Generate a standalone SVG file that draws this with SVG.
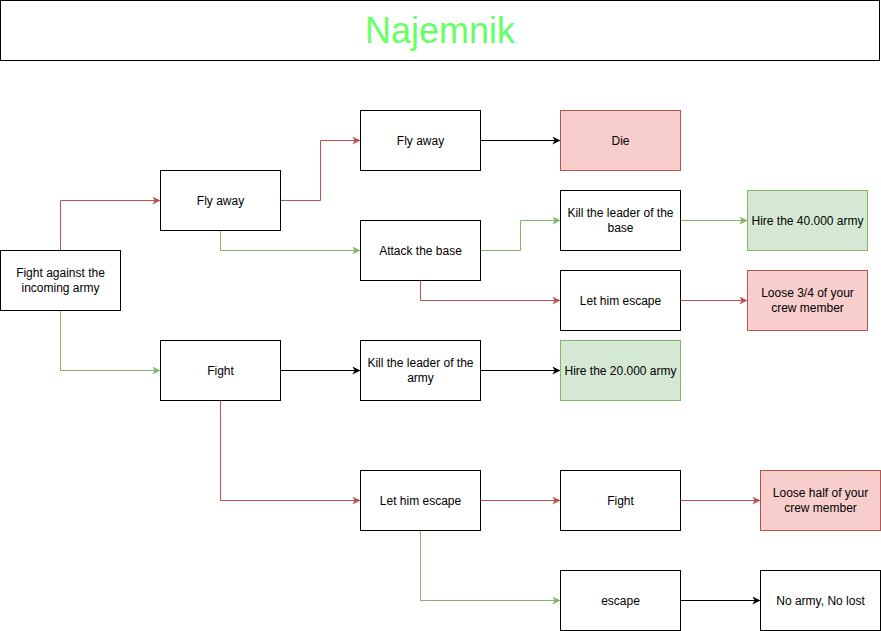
<svg xmlns="http://www.w3.org/2000/svg" width="881" height="631" viewBox="0 0 881 631">
<style>
text{font-family:"Liberation Sans",Arial,sans-serif;font-size:12px;fill:#000;text-anchor:middle}
.n rect{fill:#fff;stroke:#000;stroke-width:1}
.r rect{fill:#f8cecc;stroke:#b85450}
.g rect{fill:#d5e8d4;stroke:#82b366}
.e{fill:none;stroke-width:1}
.ek{stroke:#000}
.er{stroke:#b85450}
.eg{stroke:#82b366}
</style>
<defs>
<marker id="ak" viewBox="0 0 10 10" refX="9" refY="5" markerWidth="8" markerHeight="8" markerUnits="userSpaceOnUse" orient="auto"><path d="M0,0 L10,5 L0,10 L3,5 Z" fill="#000"/></marker>
<marker id="ar" viewBox="0 0 10 10" refX="9" refY="5" markerWidth="8" markerHeight="8" markerUnits="userSpaceOnUse" orient="auto"><path d="M0,0 L10,5 L0,10 L3,5 Z" fill="#b85450"/></marker>
<marker id="ag" viewBox="0 0 10 10" refX="9" refY="5" markerWidth="8" markerHeight="8" markerUnits="userSpaceOnUse" orient="auto"><path d="M0,0 L10,5 L0,10 L3,5 Z" fill="#82b366"/></marker>
</defs>
<rect width="881" height="631" fill="#fff"/>
<g id="title" class="n"><rect x="0.5" y="0.5" width="879" height="60"/><text x="440" y="43" style="font-size:36px;fill:#66ff66">Najemnik</text></g>
<g id="edges">
<path class="e er" d="M60.5,250.5 V200.5 H159.5" marker-end="url(#ar)"/>
<path class="e eg" d="M60.5,310.5 V370.5 H159.5" marker-end="url(#ag)"/>
<path class="e er" d="M280.5,200.5 H320.5 V140.5 H359.5" marker-end="url(#ar)"/>
<path class="e eg" d="M220.5,230.5 V250.5 H359.5" marker-end="url(#ag)"/>
<path class="e ek" d="M480.5,140.5 H559.5" marker-end="url(#ak)"/>
<path class="e eg" d="M480.5,250.5 H520.5 V220.5 H559.5" marker-end="url(#ag)"/>
<path class="e er" d="M420.5,280.5 V300.5 H559.5" marker-end="url(#ar)"/>
<path class="e eg" d="M680.5,220.5 H746.5" marker-end="url(#ag)"/>
<path class="e er" d="M680.5,300.5 H746.5" marker-end="url(#ar)"/>
<path class="e ek" d="M280.5,370.5 H359.5" marker-end="url(#ak)"/>
<path class="e ek" d="M480.5,370.5 H559.5" marker-end="url(#ak)"/>
<path class="e er" d="M220.5,400.5 V500.5 H359.5" marker-end="url(#ar)"/>
<path class="e er" d="M480.5,500.5 H559.5" marker-end="url(#ar)"/>
<path class="e er" d="M680.5,500.5 H759.5" marker-end="url(#ar)"/>
<path class="e eg" d="M420.5,530.5 V600.5 H559.5" marker-end="url(#ag)"/>
<path class="e ek" d="M680.5,600.5 H759.5" marker-end="url(#ak)"/>
</g>
<g id="fight-against" class="n"><rect x="0.5" y="250.5" width="120" height="60"/><text x="60.5" y="277">Fight against the</text><text x="60.5" y="292">incoming army</text></g>
<g id="fly-away-1" class="n"><rect x="160.5" y="170.5" width="120" height="60"/><text x="220.5" y="205">Fly away</text></g>
<g id="fight-1" class="n"><rect x="160.5" y="340.5" width="120" height="60"/><text x="220.5" y="375">Fight</text></g>
<g id="fly-away-2" class="n"><rect x="360.5" y="110.5" width="120" height="60"/><text x="420.5" y="145">Fly away</text></g>
<g id="attack-base" class="n"><rect x="360.5" y="220.5" width="120" height="60"/><text x="420.5" y="255">Attack the base</text></g>
<g id="kill-leader-army" class="n"><rect x="360.5" y="340.5" width="120" height="60"/><text x="420.5" y="367">Kill the leader of the</text><text x="420.5" y="382">army</text></g>
<g id="let-escape-2" class="n"><rect x="360.5" y="470.5" width="120" height="60"/><text x="420.5" y="505">Let him escape</text></g>
<g id="die" class="n r"><rect x="560.5" y="110.5" width="120" height="60"/><text x="620.5" y="145">Die</text></g>
<g id="kill-leader-base" class="n"><rect x="560.5" y="190.5" width="120" height="60"/><text x="620.5" y="217">Kill the leader of the</text><text x="620.5" y="232">base</text></g>
<g id="let-escape-1" class="n"><rect x="560.5" y="270.5" width="120" height="60"/><text x="620.5" y="305">Let him escape</text></g>
<g id="hire-20" class="n g"><rect x="560.5" y="340.5" width="120" height="60"/><text x="620.5" y="375">Hire the 20.000 army</text></g>
<g id="fight-2" class="n"><rect x="560.5" y="470.5" width="120" height="60"/><text x="620.5" y="505">Fight</text></g>
<g id="escape" class="n"><rect x="560.5" y="570.5" width="120" height="60"/><text x="620.5" y="605">escape</text></g>
<g id="hire-40" class="n g"><rect x="747.5" y="190.5" width="120" height="60"/><text x="807.5" y="225">Hire the 40.000 army</text></g>
<g id="loose-34" class="n r"><rect x="747.5" y="270.5" width="120" height="60"/><text x="807.5" y="297">Loose 3/4 of your</text><text x="807.5" y="312">crew member</text></g>
<g id="loose-half" class="n r"><rect x="760.5" y="470.5" width="120" height="60"/><text x="820.5" y="497">Loose half of your</text><text x="820.5" y="512">crew member</text></g>
<g id="no-army" class="n"><rect x="760.5" y="570.5" width="120" height="60"/><text x="820.5" y="605">No army, No lost</text></g>
</svg>
